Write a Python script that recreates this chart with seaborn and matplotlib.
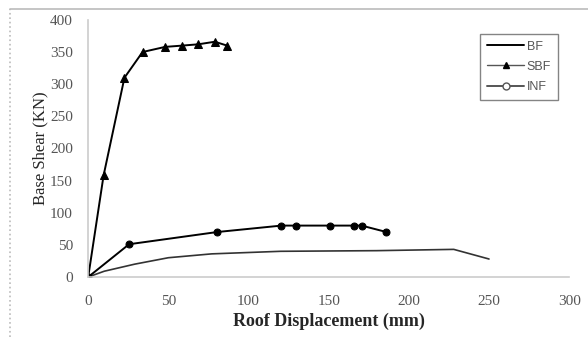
import pandas as pd
import matplotlib.pyplot as plt
import seaborn as sns
from matplotlib.lines import Line2D

# Roof displacement (mm) and base shear (KN)
bf_disp = [0, 10, 29, 50, 77, 120, 180, 228, 250]
bf_shear = [0, 9, 20, 30, 36, 40, 41, 43, 28]

sbf_disp = [0, 9.6, 22.6, 33.9, 48, 58.7, 68.6, 79, 86.6]
sbf_shear = [0, 158, 310, 350, 358, 360, 362, 366, 360]

inf_disp = [0, 25.5, 80.5, 120.5, 129.5, 151, 165.5, 170.5, 186]
inf_shear = [0, 51, 70, 80, 80, 80, 80, 80, 70]

x_ticks = [0, 50, 100, 150, 200, 250, 300]
y_ticks = [0, 50, 100, 150, 200, 250, 300, 350, 400]

sns.set_style("white")
plt.rcParams["font.family"] = ["Liberation Serif", "DejaVu Serif"]

fig = plt.figure(figsize=(5.88, 3.37), dpi=100)
ax = fig.add_axes([0.15, 0.178, 0.818, 0.763])

bf = pd.DataFrame({"disp": bf_disp, "shear": bf_shear})
sbf = pd.DataFrame({"disp": sbf_disp, "shear": sbf_shear})
inf = pd.DataFrame({"disp": inf_disp, "shear": inf_shear})

sns.lineplot(data=bf, x="disp", y="shear", ax=ax, color="#333333", lw=1.2)
sns.lineplot(data=sbf, x="disp", y="shear", ax=ax, color="black", lw=1.4,
             marker="^", markersize=6, markeredgecolor="black")
sns.lineplot(data=inf, x="disp", y="shear", ax=ax, color="black", lw=1.4,
             marker="o", markersize=5, markeredgecolor="black")

ax.set_xlim(0, 300)
ax.set_ylim(0, 400)
ax.set_xticks(x_ticks)
ax.set_yticks(y_ticks)
ax.tick_params(length=0, labelsize=11, labelcolor="#555555")
ax.tick_params(axis="x", pad=13)
ax.tick_params(axis="y", pad=11)
for s in ["top", "right"]:
    ax.spines[s].set_visible(False)
for s in ["left", "bottom"]:
    ax.spines[s].set_color("#cccccc")
    ax.spines[s].set_linewidth(1.2)

ax.set_xlabel("Roof Displacement (mm)", fontsize=13, fontweight="bold", labelpad=3)
ax.set_ylabel("Base Shear (KN)", fontsize=12, labelpad=1)

handles = [
    Line2D([], [], color="black", lw=1.4),
    Line2D([], [], color="#555555", lw=1, marker="^", markersize=5,
           markerfacecolor="black", markeredgecolor="black"),
    Line2D([], [], color="#555555", lw=1.4, marker="o", markersize=5,
           markerfacecolor="white", markeredgecolor="#555555"),
]
leg = ax.legend(handles, ["BF", "SBF", "INF"], loc="upper right",
                bbox_to_anchor=(0.99, 0.97), fontsize=9, frameon=True,
                fancybox=False, handlelength=3.0, handletextpad=0.2,
                borderpad=0.55, labelspacing=0.65,
                prop={"family": ["Liberation Sans", "DejaVu Sans"], "size": 9})
leg.get_frame().set_edgecolor("#666666")
leg.get_frame().set_linewidth(1)
for t in leg.get_texts():
    t.set_color("#555555")

# outer chart border: solid top, dotted left
fig.add_artist(Line2D([0.017, 1.0], [0.973, 0.973], transform=fig.transFigure,
                      color="#bbbbbb", lw=1.2))
fig.add_artist(Line2D([0.017, 0.017], [0.0, 0.973], transform=fig.transFigure,
                      color="#bbbbbb", lw=1.2, ls=":"))

fig.savefig("out.png", dpi=100)
